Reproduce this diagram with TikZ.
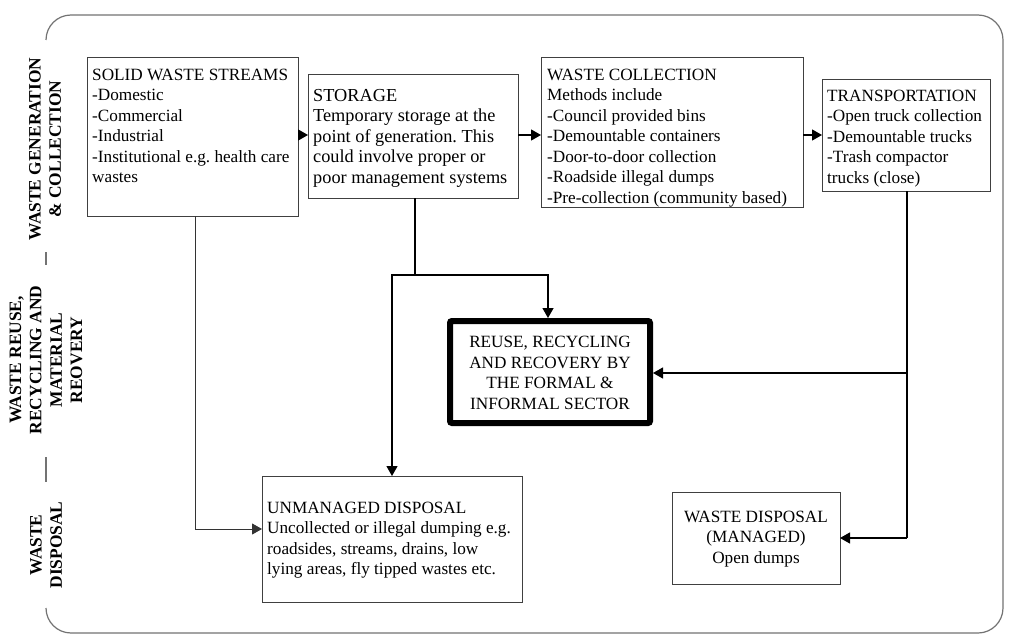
\documentclass[tikz,border=0pt]{standalone}
\usepackage{fontspec}
\setmainfont{Liberation Serif}
\usetikzlibrary{arrows.meta}
\newcommand\bodyfs{\fontsize{17.2pt}{20.5pt}\selectfont\frenchspacing}
\newcommand\storfs{\fontsize{18.3pt}{20.5pt}\selectfont\frenchspacing}
\newcommand\labfs{\fontsize{17.4pt}{20.3pt}\selectfont\bfseries}
\begin{document}
\begin{tikzpicture}[x=1pt,y=-1pt,
  box/.style={draw=black!75, line width=0.9pt, inner sep=0pt, outer sep=0pt, anchor=north west},
  txt/.style={inner sep=0pt, anchor=north west, align=left, font=\bodyfs},
  ctxt/.style={inner sep=0pt, align=center, font=\bodyfs},
  lab/.style={inner sep=0pt, align=center, font=\labfs, rotate=90},
  outerline/.style={draw=black!55, line width=1.2pt},
  conn/.style={line width=1.3pt, black},
  arr/.style={conn, -{Triangle[length=10pt,width=11pt]}},
  thinconn/.style={line width=1pt, black!80},
  thinarr/.style={thinconn, -{Triangle[length=10pt,width=11pt]}}]
\useasboundingbox (0,0) rectangle (1013,642);
\fill[white] (0,0) rectangle (1013,642);

% outer frame
\draw[outerline, rounded corners=25pt] (46,40) -- (46,15) -- (1003,15) -- (1003,633) -- (46,633) -- (46,608);
\draw[outerline] (46,252) -- (46,265);
\draw[outerline] (46,457) -- (46,482);

% side labels
\node[lab] (lab1) at (45,149) {WASTE GENERATION\\\& COLLECTION};
\node[lab] (lab2) at (46,360) {WASTE REUSE,\\RECYCLING AND\\MATERIAL\\REOVERY};
\node[lab] (lab3) at (46,545) {WASTE\\DISPOSAL};

% boxes
\node[box, minimum width=211pt, minimum height=159pt] (solid) at (87,57) {};
\node[txt] (solidt) at (92,68) {\rule{0pt}{12pt}SOLID WASTE STREAMS\\-Domestic\\-Commercial\\-Industrial\\-Institutional e.g. health care\\wastes};

\node[box, minimum width=210pt, minimum height=124pt] (stor) at (308,74) {};
\node[txt, font=\storfs] (stort) at (313,89) {\rule{0pt}{12pt}STORAGE\\Temporary storage at the\\point of generation. This\\could involve proper or\\poor management systems};

\node[box, minimum width=262pt, minimum height=150pt] (coll) at (541,57) {};
\node[txt] (collt) at (547,68) {\rule{0pt}{12pt}WASTE COLLECTION\\Methods include\\-Council provided bins\\-Demountable containers\\-Door-to-door collection\\-Roadside illegal dumps\\-Pre-collection (community based)};

\node[box, minimum width=168pt, minimum height=112pt] (trans) at (822,79) {};
\node[txt] (transt) at (827,89) {\rule{0pt}{12pt}TRANSPORTATION\\-Open truck collection\\-Demountable trucks\\-Trash compactor\\trucks (close)};

\node[draw=black, line width=6pt, rounded corners=2pt, minimum width=200pt, minimum height=102pt, inner sep=0pt, outer sep=3pt] (rrr) at (550,372) {};
\node[ctxt] (rrrt) at (550,373) {REUSE, RECYCLING\\AND RECOVERY BY\\THE FORMAL \&\\INFORMAL SECTOR};

\node[box, minimum width=260pt, minimum height=126pt] (unman) at (262,476) {};
\node[txt] (unmant) at (267,501) {\rule{0pt}{12pt}UNMANAGED DISPOSAL\\Uncollected or illegal dumping e.g.\\roadsides, streams, drains, low\\lying areas, fly tipped wastes etc.};

\node[box, minimum width=168pt, minimum height=92pt] (wd) at (672,492) {};
\node[ctxt] (wdt) at (756,539) {WASTE DISPOSAL\\(MANAGED)\\Open dumps};

% helper coordinates
\coordinate (row) at (0,135);
\coordinate (xsolid) at (195,0);
\coordinate (xstor) at (415,0);
\coordinate (xrrr) at (548,0);
\coordinate (xunm) at (392,0);
\coordinate (xtr) at (907,0);
\coordinate (yunm) at (0,529);
\coordinate (junc) at (415,275);
\coordinate (tj1) at (907,373);
\coordinate (tj2) at (907,538);

% horizontal arrows
\draw[arr] (solid.east |- row) -- (stor.west |- row);
\draw[arr] (stor.east |- row) -- (coll.west |- row);
\draw[arr] (coll.east |- row) -- (trans.west |- row);

% storage branches
\draw[conn] (stor.south -| xstor) -- (junc);
\draw[arr] (junc) -| (rrr.north -| xrrr);
\draw[arr] (junc) -| (unman.north -| xunm);

% solid waste to unmanaged
\draw[thinarr] (solid.south -| xsolid) |- (unman.west |- yunm);

% transportation branches
\draw[conn] (trans.south -| xtr) -- (tj2);
\draw[arr] (tj1) -- (rrr.east |- tj1);
\draw[arr] (tj2) -- (wd.east |- tj2);
\end{tikzpicture}
\end{document}
